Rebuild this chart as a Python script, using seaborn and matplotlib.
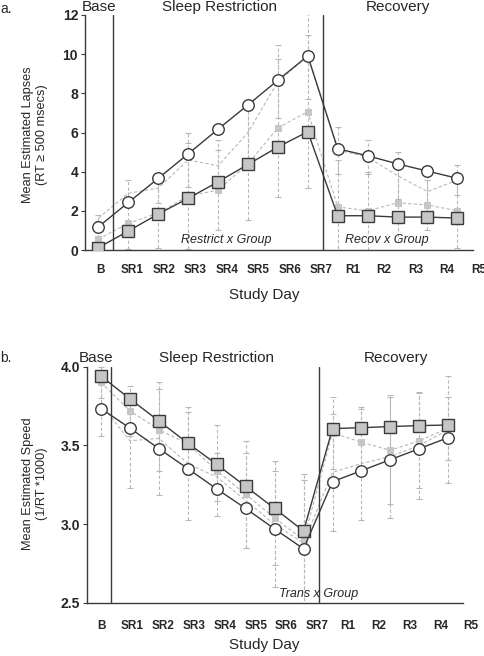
import numpy as np
import pandas as pd
import matplotlib
matplotlib.use("Agg")
import matplotlib.pyplot as plt
import seaborn as sns

# ---------------- data ----------------
days = ["B", "SR1", "SR2", "SR3", "SR4", "SR5", "SR6", "SR7", "R1", "R2", "R3", "R4", "R5"]

# Panel a: lapses
lapse_white_model = [1.19, 2.43, 3.66, 4.91, 6.17, 7.41, 8.67, 9.91, 5.17, 4.81, 4.40, 4.03, 3.66]
lapse_gray_model = [0.12, 0.97, 1.84, 2.64, 3.48, 4.37, 5.26, 6.04, 1.75, 1.75, 1.68, 1.68, 1.63]
lapse_white_obs = [1.63, 2.90, 3.16, 4.60, 4.30, 6.00, 8.60, 9.90, 5.10, 4.75, 3.80, 2.98, 3.57]
lapse_gray_obs = [0.56, 1.36, 1.90, 2.75, 3.06, 4.40, 6.24, 7.06, 2.20, 2.00, 2.41, 2.30, 2.00]
lapse_white_err = [0.15, 0.70, 0.75, 1.37, 1.30, 1.30, 1.86, 2.17, 1.20, 0.86, 1.20, 1.27, 0.77]
lapse_gray_err = [0.50, 1.30, 1.80, 2.70, 2.04, 2.87, 3.52, 3.90, 2.40, 2.00, 2.00, 1.28, 1.90]

# Panel b: speed
speed_white_model = [3.734, 3.61, 3.48, 3.353, 3.224, 3.10, 2.97, 2.844, 3.27, 3.34, 3.41, 3.48, 3.55]
speed_gray_model = [3.94, 3.796, 3.655, 3.515, 3.38, 3.24, 3.10, 2.957, 3.607, 3.613, 3.62, 3.626, 3.63]
speed_white_obs = [3.76, 3.53, 3.545, 3.385, 3.30, 3.15, 3.00, 2.88, 3.33, 3.385, 3.43, 3.50, 3.60]
speed_gray_obs = [3.90, 3.72, 3.60, 3.51, 3.34, 3.19, 3.04, 2.90, 3.58, 3.52, 3.47, 3.53, 3.61]
speed_white_err = [0.20, 0.30, 0.36, 0.36, 0.15, 0.30, 0.40, 0.40, 0.37, 0.36, 0.39, 0.34, 0.34]
speed_gray_err = [0.10, 0.16, 0.26, 0.20, 0.29, 0.34, 0.30, 0.42, 0.23, 0.21, 0.34, 0.30, 0.20]

# ---------------- style ----------------
sns.set_style("ticks")
plt.rcParams["font.family"] = ["Liberation Sans", "DejaVu Sans"]

W, H = 485, 656
fig = plt.figure(figsize=(W / 100, H / 100), dpi=100)

LINE = "#3a3a3a"
SQFACE = "#c6c6c6"
OBS = "#b8b8b8"
OBSMK = "#c6c6c6"


def add_axes_px(left, top, right, bottom):
    return fig.add_axes([left / W, 1 - bottom / H, (right - left) / W, (bottom - top) / H])


def draw_panel(ax, wm, gm, wo, go, we, ge):
    pos = np.arange(len(days))
    df = pd.DataFrame({"pos": pos, "day": days, "wm": wm, "gm": gm,
                       "wo": wo, "go": go, "we": we, "ge": ge})
    # observed error bars (dashed)
    for col, ecol in (("wo", "we"), ("go", "ge")):
        eb = ax.errorbar(df["pos"], df[col], yerr=df[ecol], fmt="none",
                         ecolor=OBS, elinewidth=0.8, capsize=2.5, capthick=0.8, zorder=1)
        for lc in eb[2]:
            lc.set_linestyle((0, (3, 2)))
    # observed means (dashed)
    sns.lineplot(data=df, x="pos", y="wo", ax=ax, color=OBS, linewidth=0.8,
                 linestyle=(0, (3, 2)), errorbar=None, zorder=2)
    sns.lineplot(data=df, x="pos", y="go", ax=ax, color=OBS, linewidth=0.8,
                 linestyle=(0, (3, 2)), marker="s", markersize=4.2,
                 markerfacecolor=OBSMK, markeredgecolor=OBSMK, errorbar=None, zorder=2)
    # model estimates
    sns.lineplot(data=df, x="pos", y="wm", ax=ax, color=LINE, linewidth=1.0,
                 marker="o", markersize=8.3, markerfacecolor="white",
                 markeredgecolor=LINE, markeredgewidth=1.0, errorbar=None, zorder=4)
    sns.lineplot(data=df, x="pos", y="gm", ax=ax, color=LINE, linewidth=1.0,
                 marker="s", markersize=8, markerfacecolor=SQFACE,
                 markeredgecolor=LINE, markeredgewidth=1.0, errorbar=None, zorder=3)
    ax.set_xlabel("")
    ax.set_ylabel("")
    for s in ("top", "right"):
        ax.spines[s].set_visible(False)
    for s in ("left", "bottom"):
        ax.spines[s].set_color(LINE)
        ax.spines[s].set_linewidth(1.0)
    ax.tick_params(axis="x", length=0, pad=10, labelsize=8.5)
    ax.tick_params(axis="y", length=3, width=0.8, color=LINE, pad=2, labelsize=10)


# ---------------- panel a ----------------
sx_a, x0_a = 29.9, 98.5
xl_a = (-0.452, 12.9)
ax1 = add_axes_px(x0_a + sx_a * xl_a[0], 15, x0_a + sx_a * xl_a[1], 250)
draw_panel(ax1, lapse_white_model, lapse_gray_model, lapse_white_obs, lapse_gray_obs,
           lapse_white_err, lapse_gray_err)
ax1.set_xlim(*xl_a)
ax1.set_ylim(0, 12)
ax1.set_yticks([0, 2, 4, 6, 8, 10, 12])
ax1.set_xticks([0.074 + 1.0535 * i for i in range(len(days))])
ax1.set_xticklabels(days)
for t in ax1.get_xticklabels() + ax1.get_yticklabels():
    t.set_fontweight("bold")
ax1.spines["bottom"].set_bounds(-0.452, 12.525)
ax1.axvline(0.485, color=LINE, lw=1.0, zorder=5)
ax1.axvline(7.5, color=LINE, lw=1.0, zorder=5)
ax1.text(4.26, 0.5, "Restrict x Group", style="italic", fontsize=9,
         ha="center", va="center", zorder=6)
ax1.text(9.65, 0.5, "Recov x Group", style="italic", fontsize=9,
         ha="center", va="center", zorder=6)

# ---------------- panel b ----------------
sx_b, x0_b = 28.94, 101.0
xl_b = (-0.494, 12.9)
ax2 = add_axes_px(x0_b + sx_b * xl_b[0], 366.7, x0_b + sx_b * xl_b[1], 603)
draw_panel(ax2, speed_white_model, speed_gray_model, speed_white_obs, speed_gray_obs,
           speed_white_err, speed_gray_err)
ax2.set_xlim(*xl_b)
ax2.set_ylim(2.5, 4.0)
ax2.set_yticks([2.5, 3.0, 3.5, 4.0])
ax2.set_yticklabels(["2.5", "3.0", "3.5", "4.0"])
ax2.set_xticks([0.024 + 1.064 * i for i in range(len(days))])
ax2.set_xticklabels(days)
ax2.tick_params(axis="x", pad=12)
for t in ax2.get_xticklabels() + ax2.get_yticklabels():
    t.set_fontweight("bold")
ax2.spines["bottom"].set_bounds(-0.494, 12.51)
ax2.axvline(0.335, color=LINE, lw=1.0, zorder=5)
ax2.axvline(7.52, color=LINE, lw=1.0, zorder=5)
ax2.text(7.52, 2.56, "Trans x Group", style="italic", fontsize=9,
         ha="center", va="center", zorder=6)

# ---------------- figure texts ----------------
def ftext(x, y, s, **kw):
    fig.text(x / W, 1 - y / H, s, **kw)

ftext(0, 9, "a.", fontsize=10, ha="left", va="center")
ftext(0, 358, "b.", fontsize=10, ha="left", va="center")
for y, xs in ((7, (99, 220, 398)), (358, (96, 217, 396))):
    ftext(xs[0], y, "Base", fontsize=11, ha="center", va="center")
    ftext(xs[1], y, "Sleep Restriction", fontsize=11, ha="center", va="center")
    ftext(xs[2], y, "Recovery", fontsize=11, ha="center", va="center")

ftext(35, 135, "Mean Estimated Lapses\n(RT \u2265 500 msecs)", fontsize=9.2,
      rotation=90, ha="center", va="center", multialignment="center", linespacing=1.25)
ftext(35, 484, "Mean Estimated Speed\n(1/RT *1000)", fontsize=9.2,
      rotation=90, ha="center", va="center", multialignment="center", linespacing=1.25)
ftext(264, 295, "Study Day", fontsize=11, ha="center", va="center")
ftext(264, 645, "Study Day", fontsize=11, ha="center", va="center")

fig.savefig("out.png", dpi=100)
